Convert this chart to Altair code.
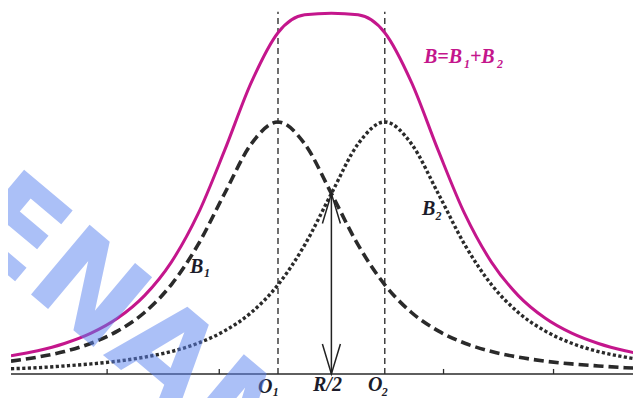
import altair as alt
import pandas as pd

# ---- data ----
x_vals = [-3.0, -2.75, -2.5, -2.25, -2.0, -1.75, -1.5, -1.25, -1.0, -0.75, -0.5, -0.25,
          0.0, 0.25, 0.5, 0.75, 1.0, 1.25, 1.5, 1.75, 2.0, 2.25, 2.5, 2.75, 3.0]
b1_vals = [0.051, 0.067, 0.089, 0.122, 0.171, 0.244, 0.354, 0.512, 0.716, 0.913, 1.000, 0.913,
           0.716, 0.512, 0.354, 0.244, 0.171, 0.122, 0.089, 0.067, 0.051, 0.040, 0.032, 0.025, 0.021]
b2_vals = [0.021, 0.025, 0.032, 0.040, 0.051, 0.067, 0.089, 0.122, 0.171, 0.244, 0.354, 0.512,
           0.716, 0.913, 1.000, 0.913, 0.716, 0.512, 0.354, 0.244, 0.171, 0.122, 0.089, 0.067, 0.051]
b_vals = [0.072, 0.092, 0.121, 0.162, 0.222, 0.311, 0.443, 0.634, 0.887, 1.157, 1.354, 1.425,
          1.431, 1.425, 1.354, 1.157, 0.887, 0.634, 0.443, 0.311, 0.222, 0.162, 0.121, 0.092, 0.072]

coil_x = [-0.5, 0.5]          # O1, O2
coil_top = 1.437
tick_x = [-2.10, -1.05, 1.05, 2.08]
arrow_x = 0.0                 # R/2
arrow_top = 0.716             # B1 = B2 at R/2

label_text = ["O", "1", "R/2", "O", "2", "B", "1", "B", "2", "B=B", "1", "+B", "2"]
label_x = [-0.688, -0.550, -0.172, 0.343, 0.472, -1.324, -1.193, 0.848, 0.975, 0.867, 1.241, 1.297, 1.551]
label_y = [-0.075, -0.088, -0.069, -0.069, -0.086, 0.401, 0.385, 0.631, 0.611, 1.234, 1.214, 1.234, 1.214]
label_size = [20, 12, 20, 20, 12, 20, 12, 20, 12, 20, 12, 20, 12]
label_color = ["#1c1c2a"] * 9 + ["#c4168c"] * 4

watermark_text = "RENAME"
watermark_x = -1.843
watermark_y = 0.167

X_DOMAIN = [-3.0, 2.824]
Y_DOMAIN = [0, 1.452]

xs = alt.Scale(domain=X_DOMAIN)
ys = alt.Scale(domain=Y_DOMAIN)

curves = pd.DataFrame({"x": x_vals, "b1": b1_vals, "b2": b2_vals, "b": b_vals})

X = alt.X("x:Q", scale=xs, axis=None)

coils = alt.Chart(pd.DataFrame({"x": coil_x, "y0": [0, 0], "y1": [coil_top, coil_top]})).mark_rule(
    color="#222222", strokeWidth=1.3, strokeDash=[6, 4]
).encode(x=X, y=alt.Y("y0:Q", scale=ys, axis=None), y2="y1:Q")

line_b1 = alt.Chart(curves).mark_line(
    color="#2a2a2a", strokeWidth=3.6, strokeDash=[10, 5], interpolate="monotone", clip=True
).encode(x=X, y=alt.Y("b1:Q", scale=ys, axis=None))

line_b2 = alt.Chart(curves).mark_line(
    color="#2a2a2a", strokeWidth=3.4, strokeDash=[3.2, 2.4], interpolate="monotone", clip=True
).encode(x=X, y=alt.Y("b2:Q", scale=ys, axis=None))

line_b = alt.Chart(curves).mark_line(
    color="#c4168c", strokeWidth=3, interpolate="monotone", clip=True
).encode(x=X, y=alt.Y("b:Q", scale=ys, axis=None))

axis_line = alt.Chart(pd.DataFrame({"x": [X_DOMAIN[0]], "x2": [X_DOMAIN[1]], "y": [0]})).mark_rule(
    color="#2a2a2a", strokeWidth=1.6
).encode(x=X, x2="x2:Q", y=alt.Y("y:Q", scale=ys, axis=None))

ticks = alt.Chart(pd.DataFrame({"x": tick_x, "y0": [0] * 4, "y1": [0.02] * 4})).mark_rule(
    color="#2a2a2a", strokeWidth=1.3
).encode(x=X, y=alt.Y("y0:Q", scale=ys, axis=None), y2="y1:Q")

arrow_df = pd.DataFrame({"x": [arrow_x], "y0": [0.0], "y1": [arrow_top]})
arrow_shaft = alt.Chart(arrow_df).mark_rule(color="#222222", strokeWidth=1.5).encode(
    x=X, y=alt.Y("y0:Q", scale=ys, axis=None), y2="y1:Q"
)
head_bottom = alt.Chart(arrow_df).mark_point(
    shape="M-0.3,-1L0,0L0.3,-1", size=3600, filled=False, color="#222222", strokeWidth=1.5, opacity=1
).encode(x=X, y=alt.Y("y0:Q", scale=ys, axis=None))
head_top = alt.Chart(arrow_df).mark_point(
    shape="M-0.3,1L0,0L0.3,1", size=3600, filled=False, color="#222222", strokeWidth=1.5, opacity=1
).encode(x=X, y=alt.Y("y1:Q", scale=ys, axis=None))

labels = alt.Chart(pd.DataFrame({
    "text": label_text, "x": label_x, "y": label_y, "size": label_size, "color": label_color
})).mark_text(
    font="Liberation Serif", fontStyle="italic", fontWeight="bold", align="left", baseline="alphabetic"
).encode(
    x=X, y=alt.Y("y:Q", scale=ys, axis=None), text="text:N",
    size=alt.Size("size:Q", scale=None, legend=None),
    color=alt.Color("color:N", scale=None, legend=None),
)

watermark = alt.Chart(pd.DataFrame({"text": [watermark_text], "x": [watermark_x], "y": [watermark_y]})).mark_text(
    font="DejaVu Sans", fontWeight="bold", fontSize=125, angle=40, align="center", baseline="middle",
    color="#5a82f0", opacity=0.5
).encode(x=X, y=alt.Y("y:Q", scale=ys, axis=None), text="text:N")

chart = alt.layer(
    coils, line_b2, line_b1, line_b, axis_line, ticks, arrow_shaft, head_bottom, head_top, labels, watermark
).properties(
    width=622, height=366,
    autosize=alt.AutoSizeParams(type="none"),
    padding={"left": 3, "top": 0, "right": 0, "bottom": 24},
    background="white",
).configure_view(stroke=None)

chart.save("out.html", embed_options={"renderer": "svg", "actions": False})
